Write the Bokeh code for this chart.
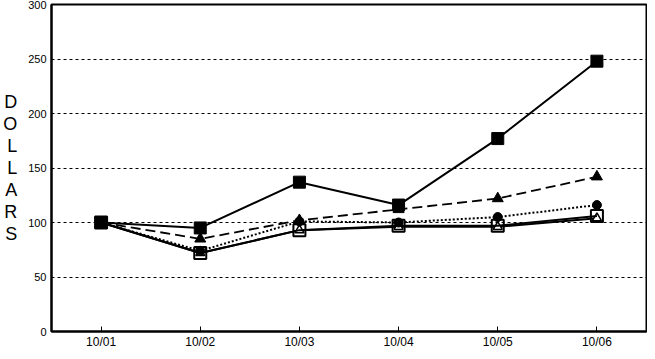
from bokeh.plotting import figure
from bokeh.models import FactorRange, Range1d, FixedTicker, ColumnDataSource
from bokeh.embed import file_html
from bokeh.resources import INLINE

dates = ["10/01", "10/02", "10/03", "10/04", "10/05", "10/06"]
series_a = [100, 95, 137, 116, 177, 248]   # solid, filled square
series_b = [100, 85, 102, 112, 122, 142]   # dashed, filled triangle
series_c = [100, 74, 101, 100, 105, 116]   # dotted, filled circle
series_d = [100, 72, 93, 97, 97, 106]      # solid, open square
series_e = [100, 72, 93, 96, 96, 104]      # solid, open triangle
y_ticks = [0, 50, 100, 150, 200, 250, 300]

FONT = "Liberation Sans"

p = figure(width=647, height=351, x_range=FactorRange(*dates, range_padding=0),
           y_range=Range1d(0, 300), output_backend="svg", toolbar_location=None,
           min_border_left=2, min_border_right=1, min_border_top=4, min_border_bottom=4)

p.background_fill_color = "white"
p.border_fill_color = "white"
p.outline_line_color = "black"
p.outline_line_width = 2

p.xgrid.grid_line_color = None
p.ygrid.grid_line_color = "black"
p.ygrid.grid_line_dash = "3 3"
p.ygrid.grid_line_width = 1
p.ygrid.ticker = FixedTicker(ticks=y_ticks)

p.yaxis.ticker = FixedTicker(ticks=y_ticks)
p.yaxis.major_tick_in = 0
p.yaxis.major_tick_out = 0
p.yaxis.minor_tick_line_color = None
p.yaxis.axis_line_width = 2
p.yaxis.major_label_text_font = FONT
p.yaxis.major_label_text_font_size = "11px"
p.yaxis.major_label_text_color = "black"
p.yaxis.major_label_standoff = 5
p.yaxis.axis_label = "D\nO\nL\nL\nA\nR\nS"
p.yaxis.axis_label_orientation = "horizontal"
p.yaxis.axis_label_text_font = FONT
p.yaxis.axis_label_text_font_size = "18px"
p.yaxis.axis_label_text_font_style = "normal"
p.yaxis.axis_label_text_line_height = 1.1
p.yaxis.axis_label_text_color = "black"
p.yaxis.axis_label_standoff = 8

p.xaxis.major_tick_in = 5
p.xaxis.major_tick_out = 0
p.xaxis.axis_line_width = 2
p.xaxis.major_label_text_font = FONT
p.xaxis.major_label_text_font_size = "12px"
p.xaxis.major_label_text_color = "black"
p.xaxis.major_label_standoff = 3

src = ColumnDataSource(dict(x=dates, a=series_a, b=series_b, c=series_c, d=series_d, e=series_e))

# open triangle series
p.line("x", "e", source=src, line_color="black", line_width=2)
p.scatter("x", "e", source=src, marker="triangle", size=9, fill_color="white",
          line_color="black", line_width=1.5)
# open square series
p.line("x", "d", source=src, line_color="black", line_width=2)
p.scatter("x", "d", source=src, marker="square", size=12, fill_color=None,
          line_color="black", line_width=2)
# dotted circle series
p.line("x", "c", source=src, line_color="black", line_width=2, line_dash="2 2")
p.scatter("x", "c", source=src, marker="circle", size=9, fill_color="black", line_color="black")
# dashed triangle series
p.line("x", "b", source=src, line_color="black", line_width=1.8, line_dash="10 5")
p.scatter("x", "b", source=src, marker="triangle", size=11, fill_color="black", line_color="black")
# solid square series
p.line("x", "a", source=src, line_color="black", line_width=2)
p.scatter("x", "a", source=src, marker="square", size=12, fill_color="black", line_color="black")

open("out.html", "w").write(file_html(p, INLINE))
